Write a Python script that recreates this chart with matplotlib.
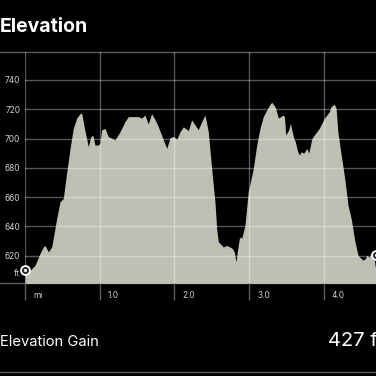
import matplotlib
matplotlib.use("Agg")
import matplotlib.pyplot as plt
from matplotlib.lines import Line2D
from matplotlib.transforms import offset_copy

# distance (mi) and elevation (ft)
distance_mi = [0.000, 0.040, 0.067, 0.134, 0.200, 0.245, 0.268, 0.312, 0.357, 0.378,
               0.424, 0.468, 0.491, 0.512, 0.558, 0.602, 0.646, 0.692, 0.736, 0.758,
               0.803, 0.847, 0.879, 0.906, 0.936, 0.980, 1.003, 1.026, 1.070, 1.114,
               1.160, 1.204, 1.271, 1.338, 1.382, 1.515, 1.560, 1.605, 1.649, 1.694,
               1.739, 1.784, 1.843, 1.896, 1.940, 1.985, 2.030, 2.074, 2.118, 2.185,
               2.230, 2.274, 2.318, 2.364, 2.408, 2.452, 2.497, 2.541, 2.564, 2.586,
               2.609, 2.652, 2.698, 2.742, 2.773, 2.800, 2.823, 2.840, 2.867, 2.886,
               2.899, 2.943, 2.987, 3.054, 3.100, 3.144, 3.188, 3.234, 3.278, 3.301,
               3.345, 3.390, 3.421, 3.448, 3.471, 3.488, 3.528, 3.550, 3.595, 3.616,
               3.648, 3.675, 3.692, 3.728, 3.772, 3.795, 3.839, 3.937, 4.004, 4.072,
               4.094, 4.139, 4.162, 4.185, 4.230, 4.277, 4.321, 4.365, 4.411, 4.455,
               4.518, 4.553, 4.571, 4.606, 4.651, 4.686, 4.721, 4.766, 4.801]
elevation_ft = [609, 609, 610, 613.5, 621.5, 626, 627, 622.6, 626, 632,
                645.4, 656.8, 658, 659, 677, 693, 707, 714, 717, 717.3,
                705, 694.5, 701, 702.5, 695.6, 695.6, 697, 705.9, 707, 701.3,
                700.2, 699, 704.7, 711.6, 715, 715, 714, 716, 710, 717,
                713, 708, 700.2, 693.3, 700.5, 701.5, 699.5, 704.7, 708, 705.5,
                712.7, 709.3, 706, 711.6, 716, 704.7, 679.6, 656.8, 638.6, 629.5,
                628.4, 626, 627, 626, 625, 622.6, 615.8, 622.6, 631.7, 633,
                631.7, 640.9, 663.7, 679.6, 695.6, 707, 715, 719.5, 723.4, 724.8,
                721.8, 714, 715, 716, 715, 702.4, 705.9, 710.4, 700.2, 697.9,
                691, 688.8, 691, 690, 693.3, 690, 700.2, 707, 713.8, 718.4,
                721.8, 723.4, 720.7, 704.7, 688.8, 672.8, 654.6, 645, 630.5, 620.3,
                617, 618, 620.3, 619, 623.8, 612.4, 614.6, 618, 620.3]

y_ticks = [620, 640, 660, 680, 700, 720, 740]
x_ticks = [0, 1, 2, 3, 4]
x_tick_labels = ["mi", "1.0", "2.0", "3.0", "4.0"]
title = "Elevation"
gain_label = "Elevation Gain"
gain_value = "427 ft"

W = H = 376
fig = plt.figure(figsize=(3.76, 3.76), dpi=100, facecolor="black")
FONT = ["Inter", "DejaVu Sans"]

px_per_mile = 74.75
left_px, top_px, bottom_px = 25, 52, 283.3
ax = fig.add_axes([left_px / W, 1 - bottom_px / H, (W - left_px) / W, (bottom_px - top_px) / H])
ax.set_facecolor("none")
ax.set_xlim(0, (W - left_px) / px_per_mile)
ax.set_ylim(601.2, 759.1)

fill_color = "#bfc0b3"
ax.fill_between(distance_mi, elevation_ft, 590, color=fill_color, lw=0, zorder=1)

ax.set_axisbelow(False)
ax.set_xticks(x_ticks)
ax.set_yticks(y_ticks)
ax.grid(True, color="white", alpha=0.34, lw=1.0)
ax.tick_params(axis="x", length=17 * 0.72, width=1.0, color="#5a5a5a", labelbottom=False)
ax.tick_params(axis="y", length=0, pad=3.5, labelsize=6, labelcolor="#d0d0d0")
for lab in ax.get_yticklabels():
    lab.set_fontfamily(FONT)
for s in ax.spines.values():
    s.set_visible(False)

# x tick labels placed right of the tick lines
for xt, lab in zip(x_ticks, x_tick_labels):
    tr = offset_copy(ax.get_xaxis_transform(), fig=fig, x=8 * 0.72, y=-12.5 * 0.72, units="points")
    ax.text(xt, 0, lab, transform=tr, ha="left", va="center", fontsize=6,
            color="#d0d0d0", family=FONT)

# unit label
tr = offset_copy(ax.transData, fig=fig, x=-5 * 0.72, y=-3.5 * 0.72, units="points")
ax.text(0, 610, "ft", transform=tr, ha="right", va="center", fontsize=6,
        color="#d0d0d0", family=FONT, clip_on=False)

# endpoint markers
for xm, ym in [(distance_mi[0], 610), (4.689, 620.3)]:
    ax.plot([xm], [ym], marker="o", ms=6.4, mfc="#2a2a2a", mec="white", mew=1.3,
            clip_on=False, zorder=5)
    ax.plot([xm], [ym], marker="o", ms=2.2, mfc="white", mec="white", mew=0,
            clip_on=False, zorder=6)

# separator lines
for ypx in (top_px, bottom_px, 372):
    fig.add_artist(Line2D([0, 1], [1 - ypx / H] * 2, color="#5a5a5a", lw=1.0,
                          transform=fig.transFigure, zorder=-1))

fig.text(0.0, 1 - 32.3 / H, title, ha="left", va="baseline", fontsize=14,
         fontweight="bold", color="white", family=FONT)
fig.text(0.0, 1 - 345.7 / H, gain_label, ha="left", va="baseline", fontsize=10.6,
         color="white", family=FONT)
fig.text(328 / W, 1 - 345.7 / H, gain_value, ha="left", va="baseline", fontsize=14.5,
         fontweight="normal", color="white", family=FONT)

fig.savefig("out.png", dpi=100, facecolor="black")
